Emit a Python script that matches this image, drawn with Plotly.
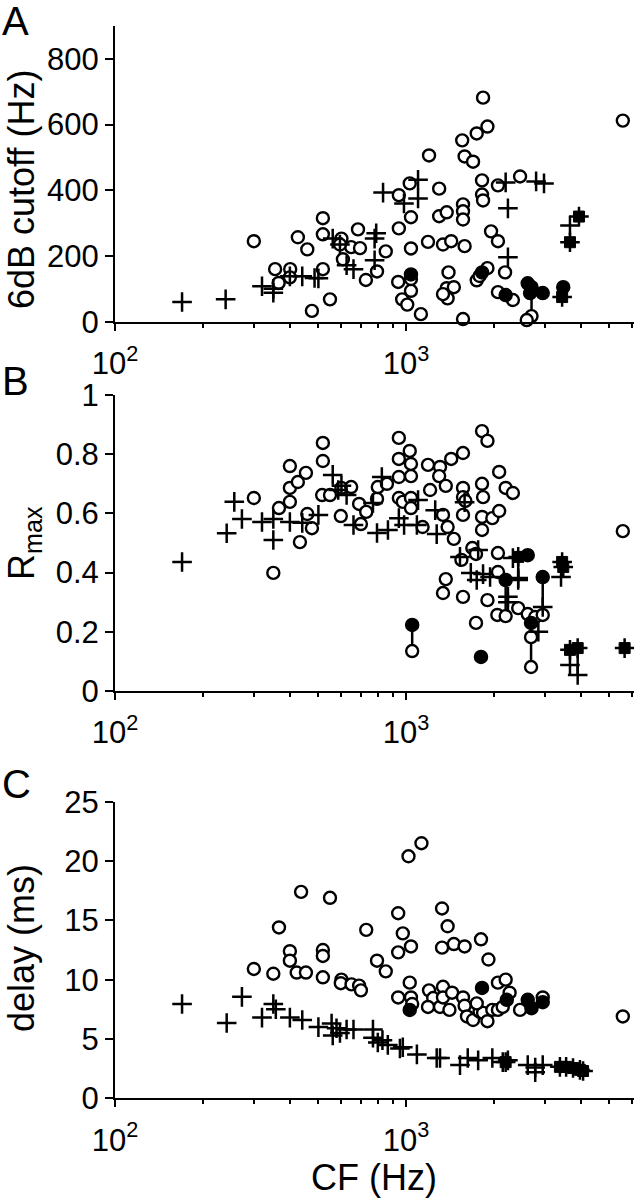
import plotly.graph_objects as go
from plotly.subplots import make_subplots

# ---- panel A: 6dB cutoff (Hz) vs CF ----
a_open_cf = [300, 355, 365, 400, 399, 425, 458, 475, 518, 518,
             518, 548, 600, 607, 648, 684, 695, 728, 795, 852,
             945, 945, 940, 970, 1010, 1040, 1040, 1040, 1040, 1030,
             1125, 1200, 1190, 1840, 1905, 1750, 1560, 1590, 1700, 5560,
             1300, 1825, 2070, 2466, 1825, 1840, 1300, 1380, 1570, 1570,
             1570, 1960, 2070, 1340, 1430, 1590, 2190, 1400, 1380, 1460,
             1390, 1340, 1570, 1750, 1905, 1790, 2070, 2330, 2700, 2600,
             593]
a_open_y = [245, 160, 118, 160, 135, 257, 220, 33, 160, 315,
            266, 68, 253, 190, 227, 281, 224, 127, 153, 214,
            385, 284, 121, 68, 52, 318, 223, 94, 130, 421,
            23, 506, 243, 682, 594, 573, 552, 503, 487, 612,
            405, 430, 415, 442, 387, 369, 321, 333, 357, 336,
            311, 275, 245, 235, 245, 230, 150, 150, 102, 105,
            71, 84, 8, 126, 163, 139, 90, 66, 17, 5,
            235]
a_plus_cf = [170, 240, 320, 350, 350, 399, 440, 485, 500, 560,
             593, 625, 660, 780, 790, 780, 834, 984, 1100, 1100,
             2200, 2800, 2980, 2240, 2240, 3660]
a_plus_y = [60, 68, 108, 88, 100, 138, 138, 133, 132, 253,
            235, 172, 160, 253, 269, 187, 393, 360, 432, 375,
            424, 427, 421, 345, 196, 293]
a_fill_cf = [1040, 1825, 2200, 2620, 2700, 2670, 2950, 3470]
a_fill_y = [144, 150, 81, 117, 105, 87, 87, 105]
a_star_cf = [3930, 3660, 3440]
a_star_y = [320, 242, 75]
a_link_cf = [2700]
a_link_lo = [17]
a_link_hi = [105]

# ---- panel B: Rmax vs CF ----
b_open_cf = [300, 350, 366, 399, 399, 399, 425, 453, 432, 458,
             475, 518, 518, 515, 548, 600, 597, 648, 690, 700,
             730, 795, 800, 860, 945, 1030, 945, 1040, 945, 1040,
             945, 975, 1040, 1040, 1140, 1190, 1210, 1309, 1300, 1430,
             1570, 1370, 1340, 1390, 1460, 1570, 1570, 1600, 1570, 1825,
             1905, 1825, 1840, 1825, 1980, 2090, 1825, 2090, 2200, 2330,
             1550, 1690, 1740, 1370, 1340, 1570, 1905, 1740, 2070, 2070,
             2060, 2200, 2430, 2620, 2780, 2950, 2690, 2690, 1050, 5560]
b_open_y = [0.652, 0.399, 0.618, 0.76, 0.686, 0.639, 0.706, 0.737, 0.503, 0.598,
            0.55, 0.838, 0.777, 0.662, 0.662, 0.686, 0.591, 0.689, 0.632, 0.564,
            0.605, 0.649, 0.689, 0.70, 0.855, 0.811, 0.784, 0.767, 0.723, 0.726,
            0.652, 0.639, 0.652, 0.618, 0.554, 0.764, 0.679, 0.757, 0.726, 0.784,
            0.804, 0.693, 0.595, 0.554, 0.514, 0.686, 0.655, 0.642, 0.595, 0.878,
            0.845, 0.70, 0.655, 0.588, 0.584, 0.608, 0.544, 0.74, 0.686, 0.669,
            0.443, 0.483, 0.463, 0.378, 0.331, 0.318, 0.307, 0.23, 0.466, 0.402,
            0.257, 0.253, 0.28, 0.26, 0.25, 0.257, 0.182, 0.081, 0.135, 0.54]
b_plus_cf = [170, 242, 257, 273, 320, 350, 350, 399, 440, 500,
             560, 585, 600, 625, 660, 770, 826, 795, 867, 945,
             985, 1090, 1100, 1260, 1275, 1590, 1533, 1770, 1670, 1750,
             1840, 1945, 2430, 2240, 2240, 2330, 2430, 2950, 2850, 3410,
             3660, 3890]
b_plus_y = [0.436, 0.533, 0.639, 0.581, 0.571, 0.581, 0.51, 0.571, 0.568, 0.595,
            0.73, 0.679, 0.693, 0.662, 0.561, 0.635, 0.723, 0.534, 0.544, 0.584,
            0.561, 0.561, 0.645, 0.611, 0.53, 0.638, 0.453, 0.476, 0.399, 0.375,
            0.395, 0.385, 0.375, 0.318, 0.30, 0.449, 0.382, 0.284, 0.2, 0.385,
            0.088, 0.054]
b_fill_cf = [1050, 1810, 2200, 2620, 2950, 2690]
b_fill_y = [0.223, 0.115, 0.375, 0.459, 0.385, 0.23]
b_star_cf = [2430, 3440, 3470, 3660, 3890, 5640]
b_star_y = [0.453, 0.436, 0.419, 0.139, 0.145, 0.145]
b_link_cf = [1050, 2200, 2430, 2690, 2950, 3890]
b_link_lo = [0.135, 0.253, 0.382, 0.081, 0.257, 0.054]
b_link_hi = [0.223, 0.375, 0.453, 0.23, 0.385, 0.145]

# ---- panel C: delay (ms) vs CF ----
c_open_cf = [300, 350, 366, 399, 399, 421, 436, 453, 518, 518,
             518, 548, 600, 597, 650, 690, 700, 730, 795, 852,
             940, 975, 940, 1040, 1020, 1130, 1330, 1390, 1330, 1460,
             1590, 1810, 1920, 940, 1030, 1040, 1050, 1200, 1240, 1190,
             1309, 1340, 1340, 1440, 1410, 1570, 1590, 1620, 1700, 1790,
             1840, 1905, 1980, 2070, 2200, 2270, 2070, 2150, 2466, 2950,
             1750, 5560]
c_open_y = [10.9, 10.5, 14.4, 12.4, 11.6, 10.6, 17.4, 10.6, 12.5, 12.0,
            10.2, 16.9, 10.0, 9.7, 9.6, 9.5, 9.1, 14.2, 11.6, 10.7,
            15.6, 13.9, 12.3, 12.8, 20.4, 21.5, 16.0, 14.5, 12.7, 13.0,
            12.8, 13.4, 11.7, 8.5, 9.75, 8.5, 7.95, 9.1, 8.45, 7.7,
            7.7, 9.4, 8.5, 8.9, 7.45, 8.5, 7.8, 6.9, 6.6, 7.3,
            7.2, 6.5, 7.45, 9.75, 10.0, 8.9, 7.45, 7.7, 7.45, 8.5,
            8.0, 6.9]
c_plus_cf = [170, 242, 273, 320, 350, 357, 399, 440, 500, 555,
             577, 560, 593, 625, 660, 770, 770, 800, 830, 866,
             953, 975, 1090, 1275, 1309, 1533, 1630, 1770, 1980, 2150,
             2240, 2620, 2780, 2780, 2950]
c_plus_y = [7.95, 6.35, 8.55, 6.8, 7.95, 7.5, 6.8, 6.6, 6.0, 6.3,
            5.9, 5.3, 5.5, 5.8, 5.8, 5.8, 5.1, 4.7, 4.9, 4.5,
            4.2, 4.3, 3.7, 3.4, 3.4, 2.8, 3.4, 3.2, 3.4, 3.05,
            3.2, 2.8, 2.6, 2.2, 2.8]
c_fill_cf = [1030, 1825, 2220, 2620, 2700, 2950]
c_fill_y = [7.45, 9.3, 8.3, 8.3, 7.6, 8.1]
c_star_cf = [2200, 3380, 3550, 3750, 3960, 4060]
c_star_y = [3.05, 2.65, 2.65, 2.55, 2.4, 2.3]

FONT = "Liberation Sans, Arial, sans-serif"
W, H, LEFT = 634, 1199, 115


def px_x(px):
    return (px - LEFT) / (W - LEFT)


def px_y(py):
    return 1 - py / H


def add_panel(fig, row, open_cf, open_y, plus_cf, plus_y, fill_cf, fill_y,
              star_cf, star_y, link_cf=(), link_lo=(), link_hi=()):
    for cf, lo, hi in zip(link_cf, link_lo, link_hi):
        fig.add_trace(go.Scatter(x=[cf, cf], y=[lo, hi], mode="lines",
                                 line=dict(color="black", width=2.5),
                                 showlegend=False, hoverinfo="skip"),
                      row=row, col=1)
    fig.add_trace(go.Scatter(x=open_cf, y=open_y, mode="markers", cliponaxis=False,
                             marker=dict(symbol="circle", size=12, color="white",
                                         line=dict(color="black", width=2.4)),
                             showlegend=False), row=row, col=1)
    fig.add_trace(go.Scatter(x=plus_cf, y=plus_y, mode="markers", cliponaxis=False,
                             marker=dict(symbol="cross-thin", size=14,
                                         line=dict(color="black", width=2.5)),
                             showlegend=False), row=row, col=1)
    fig.add_trace(go.Scatter(x=fill_cf, y=fill_y, mode="markers", cliponaxis=False,
                             marker=dict(symbol="circle", size=13, color="black",
                                         line=dict(color="black", width=1.5)),
                             showlegend=False), row=row, col=1)
    # filled blob with a cross on top
    fig.add_trace(go.Scatter(x=star_cf, y=star_y, mode="markers", cliponaxis=False,
                             marker=dict(symbol="square", size=11, color="black",
                                         line=dict(color="black", width=1)),
                             showlegend=False), row=row, col=1)
    fig.add_trace(go.Scatter(x=star_cf, y=star_y, mode="markers", cliponaxis=False,
                             marker=dict(symbol="cross-thin", size=14,
                                         line=dict(color="black", width=2.5)),
                             showlegend=False), row=row, col=1)


fig = make_subplots(rows=3, cols=1)
add_panel(fig, 1, a_open_cf, a_open_y, a_plus_cf, a_plus_y, a_fill_cf, a_fill_y,
          a_star_cf, a_star_y, a_link_cf, a_link_lo, a_link_hi)
add_panel(fig, 2, b_open_cf, b_open_y, b_plus_cf, b_plus_y, b_fill_cf, b_fill_y,
          b_star_cf, b_star_y, b_link_cf, b_link_lo, b_link_hi)
add_panel(fig, 3, c_open_cf, c_open_y, c_plus_cf, c_plus_y, c_fill_cf, c_fill_y,
          c_star_cf, c_star_y)

# pixel rows of each panel (top, bottom)
rows_px = [(26, 321.7), (395, 691), (801.7, 1098.3)]
y_ranges = [[0, 900], [0, 1], [0, 25]]
y_ticks = [[0, 200, 400, 600, 800], [0, 0.2, 0.4, 0.6, 0.8, 1], [0, 5, 10, 15, 20, 25]]
y_text = [["0", "200", "400", "600", "800"],
          ["0", "0.2", "0.4", "0.6", "0.8", "1"],
          ["0", "5", "10", "15", "20", "25"]]
minor_vals = [200, 300, 400, 500, 600, 700, 800, 900, 2000, 3000, 4000, 5000, 6000]

for i in range(3):
    top, bot = rows_px[i]
    fig.update_yaxes(row=i + 1, col=1, domain=[px_y(bot), px_y(top)],
                     range=y_ranges[i], tickvals=y_ticks[i], ticktext=y_text[i],
                     showline=True, linecolor="black", linewidth=2,
                     ticks="outside", ticklen=8, tickwidth=2, tickcolor="black",
                     showgrid=False, zeroline=False, automargin=False,
                     tickfont=dict(size=31, color="black", family=FONT))
    fig.update_xaxes(row=i + 1, col=1, type="log", range=[2, 3.7835],
                     tickvals=[100, 1000], ticktext=["10<sup>2</sup>", "10<sup>3</sup>"],
                     showline=True, linecolor="black", linewidth=2,
                     ticks="outside", ticklen=7, tickwidth=2, tickcolor="black",
                     minor=dict(tickvals=minor_vals, ticks="outside", ticklen=4,
                                tickwidth=2, tickcolor="black"),
                     ticklabelstandoff=6,
                     showgrid=False, zeroline=False, automargin=False,
                     tickfont=dict(size=31, color="black", family=FONT))

notes = [
    dict(text="A", x=px_x(0), y=px_y(21)),
    dict(text="B", x=px_x(0), y=px_y(381)),
    dict(text="C", x=px_x(0), y=px_y(784)),
]
for n in notes:
    fig.add_annotation(text=n["text"], x=n["x"], y=n["y"], xref="paper", yref="paper",
                       xanchor="left", yanchor="middle", showarrow=False,
                       font=dict(size=40, color="black", family=FONT))

titles = [
    dict(text="6dB cutoff (Hz)", x=21, y=190),
    dict(text="R<sub>max</sub>", x=24, y=543),
    dict(text="delay (ms)", x=21, y=948),
]
for t in titles:
    fig.add_annotation(text=t["text"], x=px_x(t["x"]), y=px_y(t["y"]), xref="paper", yref="paper",
                       xanchor="center", yanchor="middle", textangle=-90, showarrow=False,
                       font=dict(size=36, color="black", family=FONT))

fig.add_annotation(text="CF (Hz)", x=px_x(374), y=px_y(1177), xref="paper", yref="paper",
                   xanchor="center", yanchor="middle", showarrow=False,
                   font=dict(size=36, color="black", family=FONT))

fig.update_layout(width=W, height=H, margin=dict(l=LEFT, r=0, t=0, b=0),
                  paper_bgcolor="white", plot_bgcolor="white",
                  font=dict(family=FONT, color="black"))

fig.write_html("out.html", config={"displayModeBar": False},
               post_script="document.body.style.margin='0';document.body.style.overflow='hidden';")
